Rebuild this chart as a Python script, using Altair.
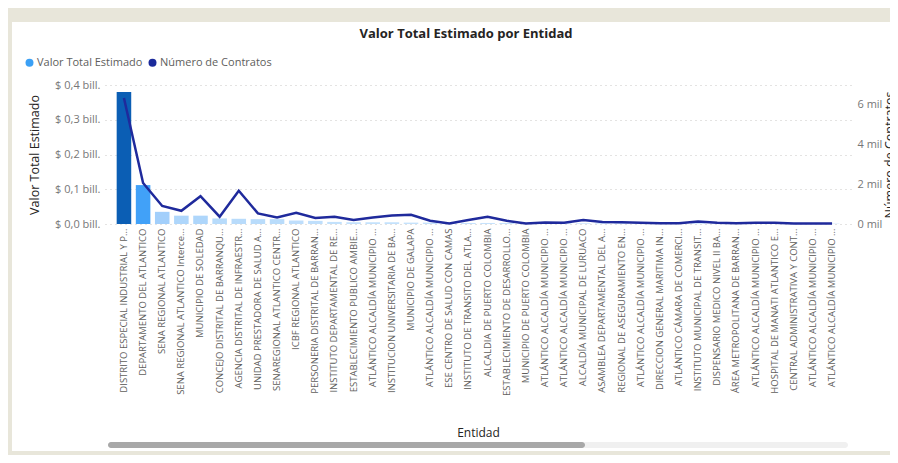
import json
import altair as alt
import pandas as pd

entidades = [
    "DISTRITO ESPECIAL INDUSTRIAL Y P...",
    "DEPARTAMENTO DEL ATLANTICO",
    "SENA REGIONAL ATLANTICO",
    "SENA REGIONAL ATLANTICO Interce...",
    "MUNICIPIO DE SOLEDAD",
    "CONCEJO DISTRITAL DE BARRANQU...",
    "AGENCIA DISTRITAL DE INFRAESTR...",
    "UNIDAD PRESTADORA DE SALUD A...",
    "SENAREGIONAL ATLANTICO CENTR...",
    "ICBF REGIONAL ATLANTICO",
    "PERSONERIA DISTRITAL DE BARRAN...",
    "INSTITUTO DEPARTAMENTAL DE RE...",
    "ESTABLECIMIENTO PUBLICO AMBIE...",
    "ATLÁNTICO ALCALDÍA MUNICIPIO ...",
    "INSTITUCION UNIVERSITARIA DE BA...",
    "MUNICIPIO DE GALAPA",
    "ATLÁNTICO ALCALDÍA MUNICIPIO ...",
    "ESE CENTRO DE SALUD CON CAMAS",
    "INSTITUTO DE TRANSITO DEL ATLA...",
    "ALCALDIA DE PUERTO COLOMBIA",
    "ESTABLECIMIENTO DE DESARROLLO...",
    "MUNICIPIO DE PUERTO COLOMBIA",
    "ATLÁNTICO ALCALDÍA MUNICIPIO ...",
    "ATLÁNTICO ALCALDÍA MUNICIPIO ...",
    "ALCALDÍA MUNICIPAL DE LURUACO",
    "ASAMBLEA DEPARTAMENTAL DEL A...",
    "REGIONAL DE ASEGURAMIENTO EN...",
    "ATLÁNTICO ALCALDÍA MUNICIPIO ...",
    "DIRECCION GENERAL MARITIMA IN...",
    "ATLÁNTICO CÁMARA DE COMERCI...",
    "INSTITUTO MUNICIPAL DE TRANSIT...",
    "DISPENSARIO MEDICO NIVEL II BA...",
    "ÁREA METROPOLITANA DE BARRAN...",
    "ATLÁNTICO ALCALDÍA MUNICIPIO ...",
    "HOSPITAL DE MANATI ATLANTICO E...",
    "CENTRAL ADMINISTRATIVA Y CONT...",
    "ATLÁNTICO ALCALDÍA MUNICIPIO ...",
    "ATLÁNTICO ALCALDÍA MUNICIPIO ...",
]

# Valor Total Estimado (en billones de pesos)
valor_total = [0.380, 0.112, 0.035, 0.024, 0.024, 0.016, 0.015, 0.014, 0.014, 0.010,
               0.009, 0.006, 0.005, 0.005, 0.005, 0.004, 0.004, 0.004, 0.003, 0.003,
               0.003, 0.003, 0.003, 0.002, 0.002, 0.002, 0.002, 0.002, 0.002, 0.002,
               0.002, 0.001, 0.001, 0.001, 0.001, 0.001, 0.001, 0.001]

# Número de Contratos
contratos = [6300, 2050, 900, 660, 1390, 365, 1660, 530, 330, 560,
             300, 365, 200, 330, 430, 460, 165, 30, 200, 365,
             160, 20, 70, 60, 200, 100, 90, 60, 40, 40,
             120, 60, 40, 60, 60, 20, 20, 20]

series = ["Valor Total Estimado", "Número de Contratos"]
left_ticks = [0, 0.1, 0.2, 0.3, 0.4]
right_ticks = [0, 2000, 4000, 6000]

FONT = "Open Sans"
W, H = 746, 139

df = pd.DataFrame({
    "idx": list(range(len(entidades))),
    "entidad": entidades,
    "valor": valor_total,
    "contratos": contratos,
})

label_expr = json.dumps(entidades, ensure_ascii=False) + "[datum.value]"

x_enc = alt.X(
    "idx:O", title="Entidad", sort="ascending",
    scale=alt.Scale(paddingInner=0.24, paddingOuter=0.61),
    axis=alt.Axis(labelExpr=label_expr, labelAngle=270, labelFontSize=9.5,
                  labelColor="#605E5C", labelLimit=400, ticks=False, domain=False,
                  labelPadding=4, titleFontSize=12, titleColor="#252423",
                  titleFontWeight="normal", titleY=203, titleBaseline="top"),
)

# decorative beige frame strips (page background of the report)
one = alt.Data(values=[{"k": 1}])
top_strip = alt.Chart(one).mark_rect(color="#E8E6DA").encode(
    x=alt.value(-97), x2=alt.value(W + 39), y=alt.value(-77), y2=alt.value(-63))
left_strip = alt.Chart(one).mark_rect(color="#E8E6DA").encode(
    x=alt.value(-97), x2=alt.value(-93), y=alt.value(-77), y2=alt.value(H + 231))
bottom_strip = alt.Chart(one).mark_rect(color="#E8E6DA").encode(
    x=alt.value(-97), x2=alt.value(W + 39), y=alt.value(H + 227), y2=alt.value(H + 231))
track = alt.Chart(one).mark_rect(color="#F0F0F0", cornerRadius=3).encode(
    x=alt.value(3), x2=alt.value(743), y=alt.value(H + 218), y2=alt.value(H + 224))
thumb = alt.Chart(one).mark_rect(color="#A8A8A8", cornerRadius=3).encode(
    x=alt.value(3), x2=alt.value(480), y=alt.value(H + 218), y2=alt.value(H + 224))

bars = alt.Chart(df).mark_bar().encode(
    x=x_enc,
    y=alt.Y("valor:Q", scale=alt.Scale(domain=[0, 0.4]),
            axis=alt.Axis(values=left_ticks,
                          labelExpr="'$ ' + replace(format(datum.value, '.1f'), '.', ',') + ' bill.'",
                          grid=True, gridDash=[1, 4], gridColor="#C8C6C4", domain=False,
                          ticks=False, labelPadding=5, labelFontSize=11, labelColor="#777777",
                          title="Valor Total Estimado", titleFontSize=12.5,
                          titleColor="#252423", titleFontWeight="normal", titlePadding=13)),
    fill=alt.Fill("valor:Q", legend=None,
                  scale=alt.Scale(domain=[0, 0.112, 0.38],
                                  range=["#C9E4FC", "#41A1F8", "#0B5EB4"])),
)

line = alt.Chart(df).mark_line(color="#1F2A9C", strokeWidth=2.5).encode(
    x=x_enc,
    y=alt.Y("contratos:Q", scale=alt.Scale(domain=[0, 6950]),
            axis=alt.Axis(orient="right", values=right_ticks,
                          labelExpr="format(datum.value / 1000, 'd') + ' mil'",
                          grid=False, domain=False, ticks=False, labelPadding=6,
                          labelFontSize=11, labelColor="#777777",
                          title="Número de Contratos", titleAngle=270, titleBaseline="top",
                          titleFontSize=12.5, titleColor="#252423",
                          titleFontWeight="normal", titlePadding=2)),
)

legend_layer = alt.Chart(pd.DataFrame({"serie": series})).mark_point(
    filled=True, opacity=0).encode(
    color=alt.Color("serie:N", scale=alt.Scale(domain=series, range=["#3BA0F5", "#1B2A9B"]),
                    legend=alt.Legend(orient="none", legendX=-81, legendY=-28,
                                      direction="horizontal", title=None,
                                      symbolType="circle", symbolSize=64,
                                      symbolStrokeWidth=0, labelFontSize=11,
                                      labelColor="#605E5C", labelFont=FONT,
                                      columnPadding=4, labelOffset=2)),
)

chart = alt.layer(top_strip, left_strip, bottom_strip, track, thumb, bars, line, legend_layer).resolve_scale(
    y="independent"
).properties(
    width=W, height=H,
    autosize=alt.AutoSizeParams(type="none"),
    padding={"left": 97, "top": 77, "right": 39, "bottom": 231},
    background="white",
    title=alt.TitleParams("Valor Total Estimado por Entidad", fontSize=13, fontWeight="bold",
                          font=FONT, color="#252423", anchor="middle", dx=-12,
                          frame="group", baseline="alphabetic", offset=-43),
).configure(font=FONT).configure_view(stroke=None).configure_axis(
    labelFont=FONT, titleFont=FONT)

chart.save("out.html", embed_options={"renderer": "svg", "actions": False})
